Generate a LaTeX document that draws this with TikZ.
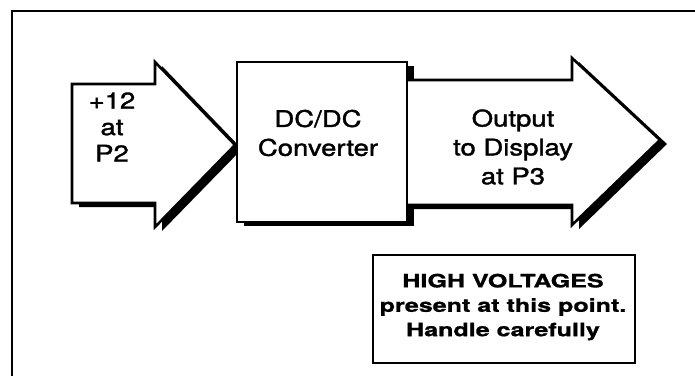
\documentclass[tikz,border=0pt]{standalone}
\usepackage{fontspec}
\setmainfont{TeX Gyre Heros}
\newfontfamily\blockfont{TeX Gyre Heros}[FakeBold=1.4]
\newfontfamily\warnfont{TeX Gyre Heros Bold}[FakeBold=0.8]
\newcommand\wideline[1]{\scalebox{1.2}[1]{#1}}
\newcommand\warnline[1]{\scalebox{1.36}[1]{#1}}
\begin{document}
\begin{tikzpicture}[x=1bp,y=-1bp,line join=miter]
\tikzset{
  outline/.style={draw=black,line width=2.6bp,fill=white},
  dropshadow/.style={fill=black,shift={(7,4)}},
  blocktext/.style={align=center,inner sep=0pt,font=\blockfont\fontsize{23}{29}\selectfont},
  warntext/.style={align=center,inner sep=0pt,font=\warnfont\fontsize{18.5}{24.5}\selectfont},
}
\useasboundingbox (0,0) rectangle (695,375);

% outer frame (runs off the right and bottom edges)
\coordinate (fbl) at (12,380);
\coordinate (ftl) at (12,11);
\coordinate (ftr) at (700,11);
\draw[line width=2.8bp] (fbl) -- (ftl) -- (ftr);

% input arrow
\fill[dropshadow] (72,84) -- (155,84) -- (155,62) -- (235,145) -- (155,227) -- (155,203) -- (72,203) -- cycle;
\draw[outline] (72,84) -- (155,84) -- (155,62) -- (235,145) -- (155,227) -- (155,203) -- (72,203) -- cycle;
\node[blocktext,font=\blockfont\fontsize{23}{26.5}\selectfont] (inlbl) at (112,127) {\wideline{+12}\\\wideline{at}\\\wideline{P2}};

% converter shadow
\fill[dropshadow] (237,62) rectangle (407,222);

% output arrow
\fill[dropshadow] (407,80) -- (572,80) -- (572,58) -- (660,140) -- (572,225) -- (572,205) -- (407,205) -- cycle;
\fill[white] (407,80) -- (572,80) -- (572,58) -- (660,140) -- (572,225) -- (572,205) -- (407,205) -- cycle;
\draw[line width=2.6bp] (407,80) -- (572,80) -- (572,58) -- (660,140) -- (572,225) -- (572,205) -- (407,205);
\node[blocktext] (outlbl) at (513,147) {\wideline{Output}\\\wideline{to Display}\\\wideline{at P3}};

% converter block
\node[outline,minimum width=170bp,minimum height=160bp,inner sep=0pt] (conv) at (322,142) {};
\node[blocktext] (convlbl) at (318,133) {\wideline{DC/DC}\\\wideline{Converter}};

% warning box
\node[draw=black,line width=1.4bp,fill=white,minimum width=262bp,minimum height=108bp,inner sep=0pt] (warnbox) at (504,309) {};
\node[warntext] (warnlbl) at (503,307) {\warnline{HIGH VOLTAGES}\\\warnline{present at this point.}\\\warnline{Handle carefully}};
\end{tikzpicture}
\end{document}
